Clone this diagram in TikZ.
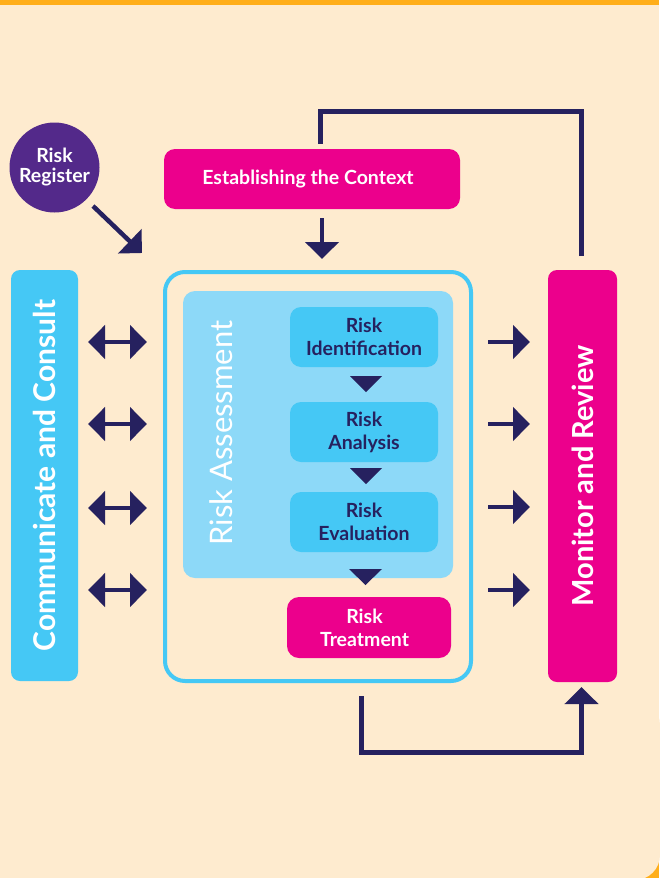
\documentclass[tikz,border=0pt]{standalone}
\usepackage{fontspec}
\setmainfont{Lato}
\usetikzlibrary{arrows.meta}
\definecolor{cream}{HTML}{FEEBCF}
\definecolor{orangeband}{HTML}{FFAE1A}
\definecolor{regpurple}{HTML}{53298A}
\definecolor{magentabox}{HTML}{EC008C}
\definecolor{skyblue}{HTML}{45C8F5}
\definecolor{paleblue}{HTML}{8DD9F8}
\definecolor{navy}{HTML}{26215F}
\tikzset{
  pinkbox/.style={rectangle, rounded corners=11pt, fill=magentabox, text=white, font=\fontsize{19.5}{23}\selectfont\bfseries, align=center, inner sep=0pt},
  pinktext/.style={text=white, font=\fontsize{19.5}{23}\selectfont\bfseries, align=center, inner sep=0pt},
  bluebox/.style={rectangle, rounded corners=11pt, fill=skyblue, text=navy, font=\fontsize{19.5}{23}\selectfont\bfseries, align=center, inner sep=0pt, minimum width=148pt, minimum height=60pt},
  sidebar/.style={rectangle, rounded corners=9pt, inner sep=0pt},
  sidetext/.style={rotate=90, text=white, font=\fontsize{29}{32}\selectfont\bfseries},
  arr/.style={draw=navy, line width=4.5pt, -{Triangle[length=17pt,width=33pt]}},
  dblarr/.style={draw=navy, line width=4.5pt, {Triangle[length=17pt,width=33pt]}-{Triangle[length=17pt,width=33pt]}},
  fback/.style={draw=navy, line width=5.5pt},
  downtri/.style={fill=navy},
}
\begin{document}
\begin{tikzpicture}[x=1pt,y=-1pt]
\useasboundingbox (0,0) rectangle (659,878);
% background
\fill[orangeband] (0,0) rectangle (659,878);
\fill[cream] (0,4.5) rectangle (600,878);
\fill[cream] (0,4.5) rectangle (659,820);
\fill[cream, rounded corners=25pt] (500,700) rectangle (660,880);

% risk register
\node[circle, fill=regpurple, minimum size=90pt, inner sep=0pt, text=white, align=center,
  font=\fontsize{19.5}{20}\selectfont\bfseries] (reg) at (54.5,167.5) {Risk\\Register};

% establishing the context
\node[pinkbox, minimum width=296pt, minimum height=60pt] (ctx) at (312,179) {};
\node[pinktext] (ctxtxt) at (308,179) {Establishing the Context};

% side bars
\node[sidebar, fill=skyblue, minimum width=67pt, minimum height=411pt] (comm) at (44.5,475.5) {};
\node[sidetext, font=\fontsize{30}{33}\selectfont\bfseries] (commtxt) at (44.5,475.5) {Communicate and Consult};
\node[sidebar, fill=magentabox, minimum width=69pt, minimum height=412pt] (mon) at (582.5,476) {};
\node[sidetext] (montxt) at (582.5,476) {Monitor and Review};

% outer box
\node[rectangle, rounded corners=20pt, draw=skyblue, line width=4pt, fill=cream, minimum width=306pt, minimum height=409pt, inner sep=0pt] (outer) at (318,476.5) {};
% inner pale box
\node[rectangle, rounded corners=12pt, fill=paleblue, minimum width=270pt, minimum height=287pt, inner sep=0pt] (inner) at (318,434.5) {};
\node[rotate=90, text=white, font=\fontsize{31}{34}\selectfont] (ratxt) at (221,433) {Risk Assessment};

% risk steps
\node[bluebox] (ident) at (364,337) {Risk\\Identification};
\node[bluebox] (anal) at (364,432) {Risk\\Analysis};
\node[bluebox] (eval) at (364,522) {Risk\\Evaluation};
\node[pinkbox, minimum width=164pt, minimum height=61pt, rounded corners=12pt] (treat) at (369,627.5) {};
\node[pinktext] (treattxt) at (364.5,627.5) {Risk\\Treatment};

% triangles between steps
\fill[downtri] (350,376) -- (382,376) -- (366,392) -- cycle;
\fill[downtri] (350,468) -- (382,468) -- (366,484) -- cycle;
\fill[downtri] (349,569) -- (382,569) -- (365.5,585) -- cycle;

% arrows
\coordinate (regs) at (93,206);
\coordinate (rege) at (142,253);
\draw[arr] (regs) -- (rege);
\coordinate (ctxs) at (322,218);
\coordinate (ctxe) at (322,259);
\draw[arr] (ctxs) -- (ctxe);

\foreach \y [count=\i] in {342,424,508,590}{
  \coordinate (dl\i) at (88,\y);
  \coordinate (dr\i) at (147,\y);
  \draw[dblarr] (dl\i) -- (dr\i);
}
\foreach \y [count=\i] in {342,424,507,590}{
  \coordinate (rl\i) at (488,\y);
  \coordinate (rr\i) at (530,\y);
  \draw[arr] (rl\i) -- (rr\i);
}

% top feedback loop
\coordinate (tf1) at (581.5,256);
\coordinate (tf2) at (581.5,111.5);
\coordinate (tf3) at (320.5,111.5);
\coordinate (tf4) at (320.5,144);
\draw[fback, line join=miter] (tf1) -- (tf2) -- (tf3) -- (tf4);

% bottom feedback loop
\coordinate (bf1) at (361,696);
\coordinate (bf2) at (361,752);
\coordinate (bf3) at (581.5,752);
\coordinate (bf4) at (581.5,687);
\draw[arr, line join=miter, line width=5pt] (bf1) -- (bf2) -- (bf3) -- (bf4);
\end{tikzpicture}
\end{document}
